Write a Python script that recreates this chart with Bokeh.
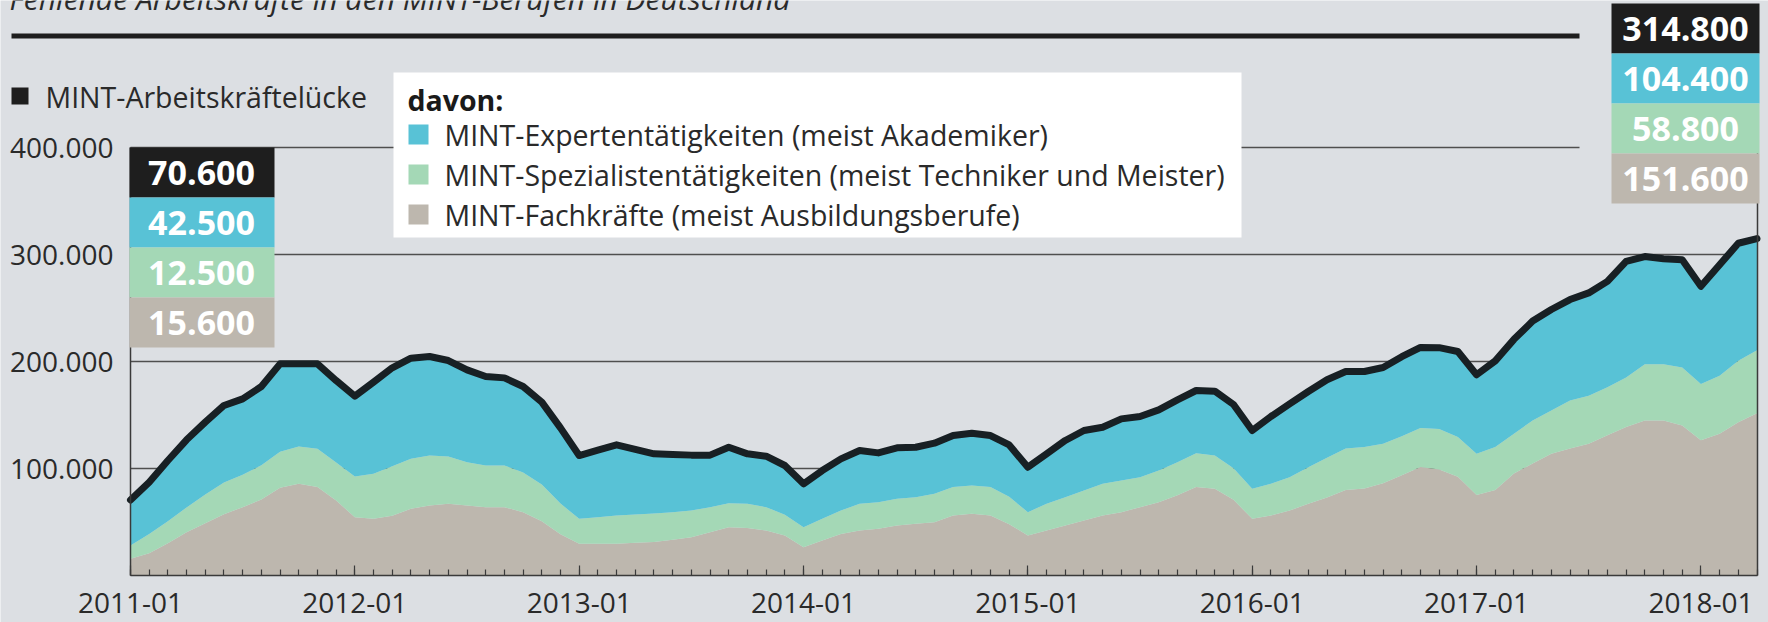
import numpy as np
from bokeh.plotting import figure
from bokeh.models import ColumnDataSource, Range1d, FixedTicker, BoxAnnotation, Label, LinearAxis
from bokeh.embed import file_html
from bokeh.resources import INLINE

# ---------------- data (monthly, 2011-01 .. 2018-04), values in thousands ----------------
months = list(range(88))  # 0 = 2011-01
fachkraefte = [15.6, 20.9, 30.2, 40.5, 48.9, 57.3, 63.9, 71.0, 81.9, 85.7,
               82.6, 70.1, 54.5, 53.0, 55.8, 62.3, 65.4, 67.0, 65.4, 63.9,
               63.9, 59.2, 50.8, 38.6, 29.6, 29.6, 29.6, 30.5, 31.2, 33.3,
               35.8, 40.5, 45.2, 44.5, 42.1, 37.4, 26.5, 32.7, 38.9, 42.1,
               43.6, 46.7, 48.3, 49.8, 56.1, 57.6, 56.1, 48.0, 37.4, 42.1,
               46.7, 51.4, 56.1, 59.2, 63.9, 68.5, 75.1, 82.6, 81.0, 70.7,
               53.0, 56.1, 60.7, 67.0, 73.0, 79.9, 81.4, 86.1, 93.7, 101.4,
               99.1, 92.3, 75.2, 79.9, 95.4, 104.6, 113.9, 118.6, 123.2, 131.0,
               138.7, 144.9, 144.9, 140.2, 126.3, 132.5, 143.3, 151.6]
spezialisten = [12.5, 18.0, 20.6, 23.1, 26.8, 29.6, 30.2, 32.1, 33.7, 34.9,
                35.8, 35.5, 38.0, 42.0, 46.4, 46.7, 46.7, 44.2, 40.5, 38.9,
                38.9, 37.1, 34.2, 28.6, 23.4, 24.9, 26.5, 26.5, 26.7, 25.9,
                24.9, 23.4, 22.4, 22.5, 21.8, 19.3, 18.7, 20.3, 21.8, 24.9,
                24.9, 25.0, 24.9, 26.5, 26.5, 26.5, 26.5, 25.5, 21.8, 24.9,
                26.5, 28.0, 29.6, 29.6, 28.0, 29.6, 30.8, 31.7, 31.1, 29.6,
                28.0, 29.6, 31.2, 34.2, 37.0, 38.7, 38.7, 37.1, 36.4, 36.5,
                37.7, 37.1, 38.7, 40.2, 37.1, 40.3, 40.3, 44.9, 44.9, 44.9,
                46.4, 52.6, 52.6, 54.2, 52.6, 54.2, 57.3, 58.8]
experten = [42.5, 48.3, 56.7, 63.2, 67.6, 72.0, 71.0, 73.5, 82.2, 77.2,
            79.4, 76.6, 75.1, 85.7, 91.9, 94.1, 92.6, 89.7, 86.3, 83.2,
            81.9, 80.3, 77.0, 70.8, 59.1, 62.6, 66.0, 60.8, 55.8, 53.9,
            51.8, 48.6, 52.3, 46.7, 47.6, 46.1, 40.5, 45.1, 48.3, 49.8,
            46.1, 47.6, 46.7, 47.4, 48.2, 48.9, 48.2, 48.5, 42.0, 46.7,
            53.0, 56.1, 52.9, 57.6, 56.7, 56.7, 58.3, 58.6, 60.2, 59.5,
            54.5, 62.9, 68.5, 70.8, 73.0, 72.1, 70.6, 71.2, 74.4, 75.3,
            76.1, 79.9, 73.7, 80.5, 88.2, 92.9, 94.4, 94.4, 96.0, 99.0,
            108.4, 100.6, 98.5, 100.6, 91.4, 103.7, 109.9, 104.4]

x_tick_labels = ["2011-01", "2012-01", "2013-01", "2014-01",
                 "2015-01", "2016-01", "2017-01", "2018-01"]
y_ticks = [100000, 200000, 300000, 400000]
y_tick_labels = ["100.000", "200.000", "300.000", "400.000"]

subtitle = "Fehlende Arbeitskräfte in den MINT-Berufen in Deutschland"
total_name = "MINT-Arbeitskräftelücke"
legend_header = "davon:"
series_names = ["MINT-Expertentätigkeiten (meist Akademiker)",
                "MINT-Spezialistentätigkeiten (meist Techniker und Meister)",
                "MINT-Fachkräfte (meist Ausbildungsberufe)"]

# ---------------- styling ----------------
BG = "#dcdfe3"
BLUE = "#58c2d6"
GREEN = "#a4d8b6"
GRAY = "#bdb7ae"
BLACK = "#1e1e1e"
LINE = "#182024"
TEXT = "#2a2a2a"
GRID = "#4f4f4f"
AXIS = "#3a3a3a"
FONT = "Open Sans"

fach = np.array(fachkraefte) * 1000
spez = np.array(spezialisten) * 1000
expt = np.array(experten) * 1000
total = fach + spez + expt

src = ColumnDataSource(dict(m=months, fach=fach, spez=spez, exp=expt, total=total))

# ---------------- geometry (canvas pixels) ----------------
W, H = 1768, 622
X0_PX, XN_PX = 130, 1756.5        # canvas x of first / last month
ZERO_PX = 575                      # canvas y of value 0
PX_PER_PERSON = 107 / 100000
px_month = (XN_PX - X0_PX) / months[-1]

x_range = Range1d(-X0_PX / px_month, (W - X0_PX) / px_month)
y_range = Range1d(-(H - ZERO_PX) / PX_PER_PERSON, ZERO_PX / PX_PER_PERSON)


def dx(cx):
    """layout x (canvas pixels) -> data x"""
    return (cx - X0_PX) / px_month


def dy(cy):
    """layout y (canvas pixels) -> data y"""
    return (ZERO_PX - cy) / PX_PER_PERSON


def fmt(v):
    return f"{v:,.0f}".replace(",", ".")


p = figure(width=W, height=H, x_range=x_range, y_range=y_range,
           output_backend="svg", toolbar_location=None,
           min_border_left=0, min_border_right=0, min_border_top=0, min_border_bottom=0,
           background_fill_color=BG, border_fill_color=BG, outline_line_color=None)
p.xgrid.visible = False
p.ygrid.visible = False

# grid lines (behind the areas)
grid_ends = [months[-1]] * (len(y_ticks) - 1) + [dx(1579)]
p.segment(x0=[months[0]] * len(y_ticks), x1=grid_ends, y0=y_ticks, y1=y_ticks,
          line_color=GRID, line_width=1.5)

# areas and total line
p.varea_stack(stackers=["fach", "spez", "exp"], x="m", color=[GRAY, GREEN, BLUE], source=src)
p.line("m", "total", source=src, line_color=LINE, line_width=7,
       line_join="round", line_cap="round")

# x axis at value 0
xa = p.xaxis[0]
xa.fixed_location = 0
xa.bounds = (months[0], months[-1])
xa.ticker = FixedTicker(ticks=[12 * i for i in range(len(x_tick_labels))], minor_ticks=months)
xa.major_label_overrides = {12 * i: lab for i, lab in enumerate(x_tick_labels)}
xa.major_tick_in = 10
xa.major_tick_out = 0
xa.minor_tick_in = 6
xa.minor_tick_out = 0
xa.axis_line_color = AXIS
xa.axis_line_width = 1.5
xa.major_tick_line_color = AXIS
xa.minor_tick_line_color = AXIS
xa.major_tick_line_width = 1.2
xa.minor_tick_line_width = 1.2
xa.major_label_text_font = FONT
xa.major_label_text_font_size = "28px"
xa.major_label_text_color = TEXT
xa.major_label_standoff = 17

# y axis at first month
ya = p.yaxis[0]
ya.fixed_location = months[0]
ya.ticker = FixedTicker(ticks=y_ticks)
ya.major_label_overrides = dict(zip(y_ticks, y_tick_labels))
ya.bounds = (0, y_ticks[-1])
ya.major_tick_in = 0
ya.major_tick_out = 0
ya.minor_tick_in = 0
ya.minor_tick_out = 0
ya.axis_line_color = AXIS
ya.axis_line_width = 1.5
ya.major_label_text_font = FONT
ya.major_label_text_font_size = "28px"
ya.major_label_text_color = TEXT
ya.major_label_standoff = 17

# right border line at last month
ra = LinearAxis(fixed_location=months[-1], ticker=FixedTicker(ticks=[]), bounds=(0, y_ticks[-1]),
                axis_line_color=AXIS, axis_line_width=1.5,
                major_tick_in=0, major_tick_out=0, minor_tick_in=0, minor_tick_out=0)
p.add_layout(ra, "right")

# subtitle (cut by the top edge, as in the original) and rule
p.add_layout(Label(x=dx(9), y=dy(-2.5), text=subtitle, text_font=FONT, text_font_size="30px",
                   text_font_style="italic", text_color=TEXT, text_baseline="middle"))
p.add_layout(BoxAnnotation(left=dx(11), right=dx(1579), top=dy(33), bottom=dy(38),
                           fill_color=BLACK, fill_alpha=1, line_alpha=0))

# total legend entry
p.add_layout(BoxAnnotation(left=dx(11), right=dx(28), top=dy(87), bottom=dy(104),
                           fill_color=BLACK, fill_alpha=1, line_alpha=0))
p.add_layout(Label(x=dx(45), y=dy(96), text=total_name, text_font=FONT, text_font_size="28.5px",
                   text_color=TEXT, text_baseline="middle"))

# white legend box
p.add_layout(BoxAnnotation(left=dx(393), right=dx(1241), top=dy(72), bottom=dy(237),
                           fill_color="white", fill_alpha=1, line_alpha=0))
p.add_layout(Label(x=dx(407), y=dy(99), text=legend_header, text_font=FONT, text_font_size="28.5px",
                   text_font_style="bold", text_color="#1a1a1a", text_baseline="middle"))
for i, (name, col) in enumerate(zip(series_names, [BLUE, GREEN, GRAY])):
    yc = 134 + 40 * i
    p.add_layout(BoxAnnotation(left=dx(408), right=dx(428), top=dy(yc - 10), bottom=dy(yc + 10),
                               fill_color=col, fill_alpha=1, line_alpha=0))
    p.add_layout(Label(x=dx(444), y=dy(yc), text=name, text_font=FONT, text_font_size="28.5px",
                       text_color=TEXT, text_baseline="middle"))

# value boxes (first and last month)
box_colors = [BLACK, BLUE, GREEN, GRAY]
first_vals = [total[0], expt[0], spez[0], fach[0]]
last_vals = [total[-1], expt[-1], spez[-1], fach[-1]]
for i, col in enumerate(box_colors):
    t, b = 147 + 50 * i, 197 + 50 * i
    p.add_layout(BoxAnnotation(left=dx(129), right=dx(274), top=dy(t), bottom=dy(b),
                               fill_color=col, fill_alpha=1, line_alpha=0))
    p.add_layout(Label(x=dx(201), y=dy((t + b) / 2), text=fmt(first_vals[i]), text_font=FONT,
                       text_font_size="34px", text_font_style="bold", text_color="white",
                       text_align="center", text_baseline="middle"))
    t, b = 3 + 50 * i, 53 + 50 * i
    p.add_layout(BoxAnnotation(left=dx(1611), right=dx(1759), top=dy(t), bottom=dy(b),
                               fill_color=col, fill_alpha=1, line_alpha=0))
    p.add_layout(Label(x=dx(1685), y=dy((t + b) / 2), text=fmt(last_vals[i]), text_font=FONT,
                       text_font_size="34px", text_font_style="bold", text_color="white",
                       text_align="center", text_baseline="middle"))

open("out.html", "w").write(file_html(p, INLINE))
